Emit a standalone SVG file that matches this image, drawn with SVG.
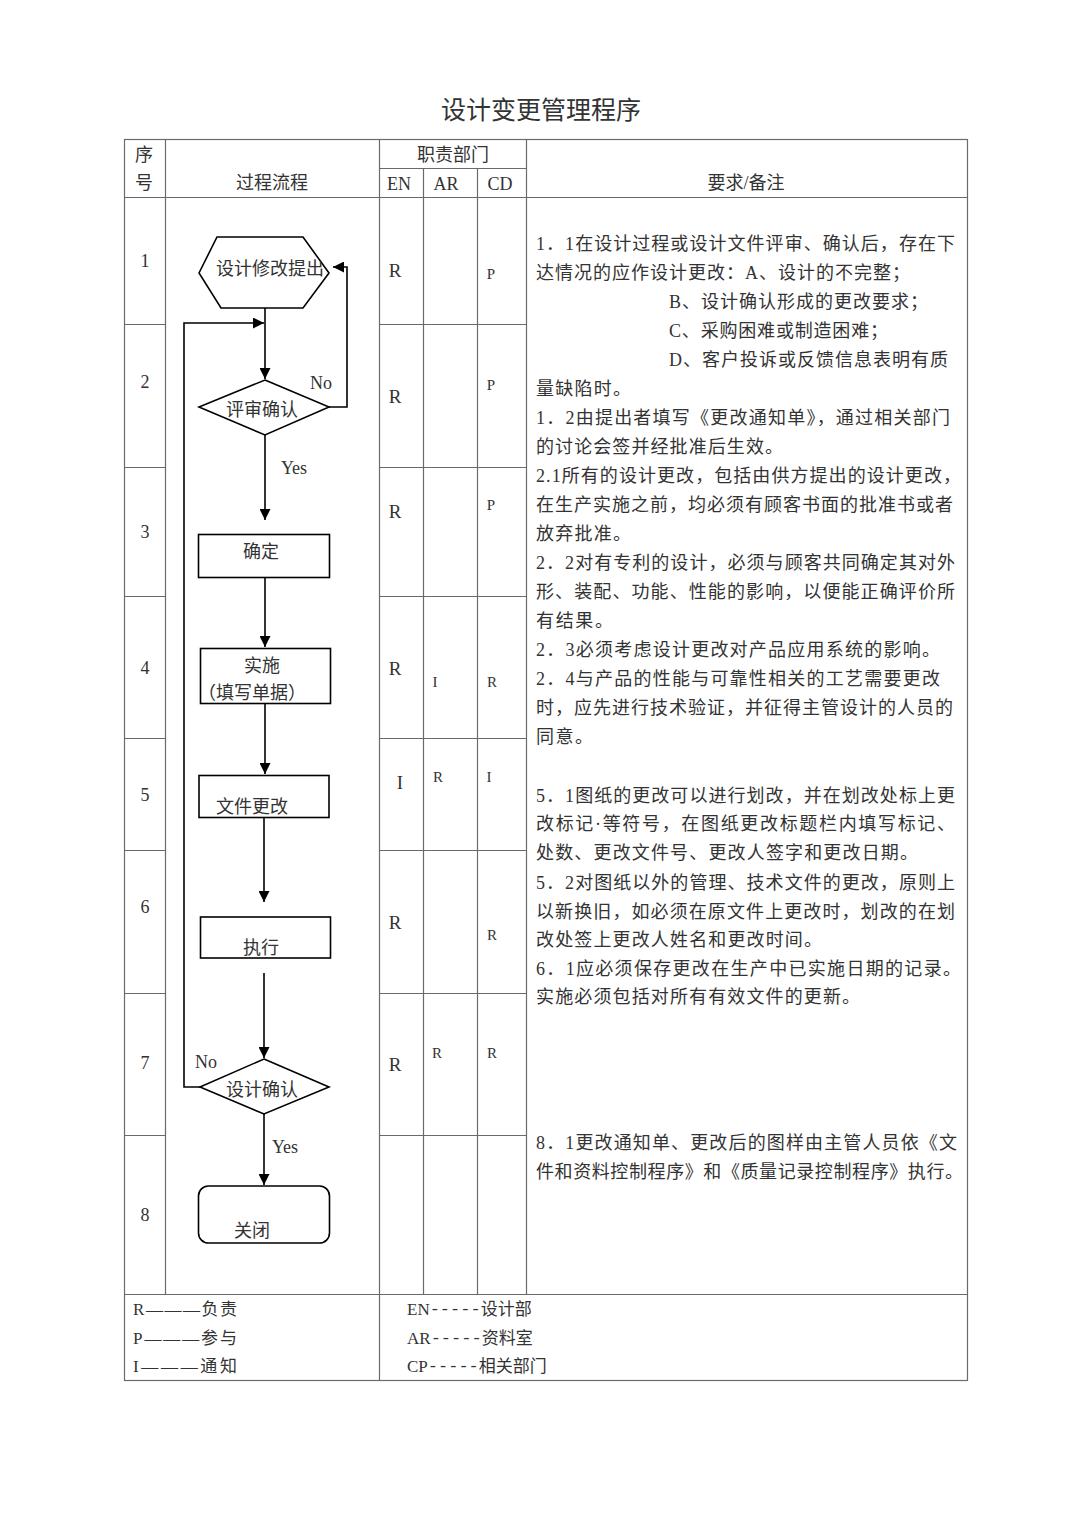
<svg xmlns="http://www.w3.org/2000/svg" width="1080" height="1527" viewBox="0 0 1080 1527">
<defs>
<style>
.tl{stroke:#6a6a6a;stroke-width:1.2;fill:none}
.fl{stroke:#000;stroke-width:1.6;fill:none}
.sh{fill:#fff;stroke:#000;stroke-width:1.6}
.t{font-family:"Liberation Serif","Noto Sans CJK SC",serif;fill:#333;dominant-baseline:central}
.c{text-anchor:middle}
.f18{font-size:18px}
.f17{font-size:17px}
.f15{font-size:15px}
.f19{font-size:19px}
.rm{font-family:"Liberation Serif","Noto Sans CJK SC",serif;fill:#333;font-size:18px;dominant-baseline:central}
.mono{font-family:"Liberation Mono","Noto Sans CJK SC",monospace}
</style>
<marker id="ah" markerWidth="11" markerHeight="11" refX="11" refY="5.5" orient="auto" markerUnits="userSpaceOnUse">
<path d="M0,0 L11,5.5 L0,11 z" fill="#000"/>
</marker>
</defs>
<rect width="1080" height="1527" fill="#fff"/>

<text class="t c" x="541" y="110" style="font-size:25px" textLength="200" lengthAdjust="spacing">设计变更管理程序</text>

<g id="table">
<rect class="tl" x="124.5" y="139.5" width="843" height="1241"/>
<path class="tl" d="M165.5,139 V1294 M379.5,139 V1381 M423.5,168 V1294 M477.5,168 V1294 M526.5,139 V1294"/>
<path class="tl" d="M379,168.5 H526 M124,197.5 H967 M124,1294.5 H967"/>
<path class="tl" d="M124,324.5 H165 M379,324.5 H526 M124,467.5 H165 M379,467.5 H526 M124,596.5 H165 M379,596.5 H526 M124,738.5 H165 M379,738.5 H526 M124,850.5 H165 M379,850.5 H526 M124,993.5 H165 M379,993.5 H526 M124,1135.5 H165 M379,1135.5 H526"/>
</g>

<g id="header">
<text class="t c f18" x="144" y="155">序</text>
<text class="t c f18" x="144" y="183">号</text>
<text class="t c f18" x="272" y="183">过程流程</text>
<text class="t c f18" x="453" y="155">职责部门</text>
<text class="t c f18" x="399" y="184">EN</text>
<text class="t c f18" x="446" y="184">AR</text>
<text class="t c f18" x="500" y="184">CD</text>
<text class="t c f18" x="746" y="183">要求/备注</text>
</g>

<g id="row-numbers">
<text class="t c f18" x="145" y="261">1</text>
<text class="t c f18" x="145" y="382">2</text>
<text class="t c f18" x="145" y="532">3</text>
<text class="t c f18" x="145" y="668">4</text>
<text class="t c f18" x="145" y="795">5</text>
<text class="t c f18" x="145" y="907">6</text>
<text class="t c f18" x="145" y="1063">7</text>
<text class="t c f18" x="145" y="1215">8</text>
</g>

<g id="roles">
<text class="t c f19" x="395" y="270">R</text>
<text class="t c f15" x="491" y="274">P</text>
<text class="t c f19" x="395" y="396">R</text>
<text class="t c f15" x="491" y="385">P</text>
<text class="t c f19" x="395" y="511">R</text>
<text class="t c f15" x="491" y="505">P</text>
<text class="t c f19" x="395" y="668">R</text>
<text class="t c f15" x="435" y="682">I</text>
<text class="t c f15" x="492" y="682">R</text>
<text class="t c f19" x="400" y="782">I</text>
<text class="t c f15" x="438" y="777">R</text>
<text class="t c f15" x="489" y="777">I</text>
<text class="t c f19" x="395" y="922">R</text>
<text class="t c f15" x="492" y="935">R</text>
<text class="t c f19" x="395" y="1064">R</text>
<text class="t c f15" x="437" y="1053">R</text>
<text class="t c f15" x="492" y="1053">R</text>
</g>

<g id="connectors">
<path class="fl" d="M265,308 V379" marker-end="url(#ah)"/>
<path class="fl" d="M265,435 V520" marker-end="url(#ah)"/>
<path class="fl" d="M265,577 V647" marker-end="url(#ah)"/>
<path class="fl" d="M265,703 V774" marker-end="url(#ah)"/>
<path class="fl" d="M264,817 V902" marker-end="url(#ah)"/>
<path class="fl" d="M264,973 V1058" marker-end="url(#ah)"/>
<path class="fl" d="M264,1114 V1185" marker-end="url(#ah)"/>
<path class="fl" d="M329,407 H347 V267 H333" marker-end="url(#ah)"/>
<path class="fl" d="M200,1087 H184 V323 H264" marker-end="url(#ah)"/>
<text class="t c f18" x="321" y="383">No</text>
<text class="t c f18" x="294" y="468">Yes</text>
<text class="t c f18" x="206" y="1062">No</text>
<text class="t c f18" x="285" y="1147">Yes</text>
</g>

<g id="n1">
<polygon class="sh" points="199,273 217,237 303,237 329,273 303,308 221,308"/>
<text class="t c f18" x="270" y="269">设计修改提出</text>
</g>
<g id="n2">
<polygon class="sh" points="265,380 329,407 265,435 199,407"/>
<text class="t c f18" x="262" y="410">评审确认</text>
</g>
<g id="n3">
<rect class="sh" x="198.5" y="534.5" width="131" height="43"/>
<text class="t c f18" x="261" y="552">确定</text>
</g>
<g id="n4">
<rect class="sh" x="200.5" y="648.5" width="130" height="55"/>
<text class="t c f18" x="262" y="666">实施</text>
<text class="t c f18" x="252" y="693">（填写单据）</text>
</g>
<g id="n5">
<rect class="sh" x="199" y="775.5" width="130" height="42"/>
<text class="t c f18" x="252" y="807">文件更改</text>
</g>
<g id="n6">
<rect class="sh" x="200.5" y="917" width="130" height="41"/>
<text class="t c f18" x="261" y="948">执行</text>
</g>
<g id="n7">
<polygon class="sh" points="264,1059 329,1087 264,1114 200,1087"/>
<text class="t c f18" x="262" y="1090">设计确认</text>
</g>
<g id="n8">
<rect class="sh" x="198.5" y="1186" width="131" height="57" rx="10"/>
<text class="t c f18" x="252" y="1231">关闭</text>
</g>

<g id="remarks">
<text class="rm" x="536" y="244" textLength="419" lengthAdjust="spacing">1．1在设计过程或设计文件评审、确认后，存在下</text>
<text class="rm" x="536" y="273" textLength="374" lengthAdjust="spacing">达情况的应作设计更改：A、设计的不完整；</text>
<text class="rm" x="669" y="302" textLength="259" lengthAdjust="spacing">B、设计确认形成的更改要求；</text>
<text class="rm" x="669" y="331" textLength="219" lengthAdjust="spacing">C、采购困难或制造困难；</text>
<text class="rm" x="669" y="360" textLength="279" lengthAdjust="spacing">D、客户投诉或反馈信息表明有质</text>
<text class="rm" x="536" y="389" textLength="95" lengthAdjust="spacing">量缺陷时。</text>
<text class="rm" x="536" y="418" textLength="414" lengthAdjust="spacing">1．2由提出者填写《更改通知单》，通过相关部门</text>
<text class="rm" x="536" y="447" textLength="247" lengthAdjust="spacing">的讨论会签并经批准后生效。</text>
<text class="rm" x="536" y="476" textLength="425" lengthAdjust="spacing">2.1所有的设计更改，包括由供方提出的设计更改，</text>
<text class="rm" x="536" y="505" textLength="417" lengthAdjust="spacing">在生产实施之前，均必须有顾客书面的批准书或者</text>
<text class="rm" x="536" y="534" textLength="95" lengthAdjust="spacing">放弃批准。</text>
<text class="rm" x="536" y="563" textLength="419" lengthAdjust="spacing">2．2对有专利的设计，必须与顾客共同确定其对外</text>
<text class="rm" x="536" y="592" textLength="419" lengthAdjust="spacing">形、装配、功能、性能的影响，以便能正确评价所</text>
<text class="rm" x="536" y="621" textLength="77" lengthAdjust="spacing">有结果。</text>
<text class="rm" x="536" y="650" textLength="404" lengthAdjust="spacing">2．3必须考虑设计更改对产品应用系统的影响。</text>
<text class="rm" x="536" y="679" textLength="404" lengthAdjust="spacing">2．4与产品的性能与可靠性相关的工艺需要更改</text>
<text class="rm" x="536" y="708" textLength="417" lengthAdjust="spacing">时，应先进行技术验证，并征得主管设计的人员的</text>
<text class="rm" x="536" y="737" textLength="57" lengthAdjust="spacing">同意。</text>
<text class="rm" x="536" y="796" textLength="419" lengthAdjust="spacing">5．1图纸的更改可以进行划改，并在划改处标上更</text>
<text class="rm" x="536" y="824" textLength="419" lengthAdjust="spacing">改标记·等符号，在图纸更改标题栏内填写标记、</text>
<text class="rm" x="536" y="853" textLength="382" lengthAdjust="spacing">处数、更改文件号、更改人签字和更改日期。</text>
<text class="rm" x="536" y="883" textLength="419" lengthAdjust="spacing">5．2对图纸以外的管理、技术文件的更改，原则上</text>
<text class="rm" x="536" y="912" textLength="419" lengthAdjust="spacing">以新换旧，如必须在原文件上更改时，划改的在划</text>
<text class="rm" x="536" y="940" textLength="286" lengthAdjust="spacing">改处签上更改人姓名和更改时间。</text>
<text class="rm" x="536" y="969" textLength="425" lengthAdjust="spacing">6．1应必须保存更改在生产中已实施日期的记录。</text>
<text class="rm" x="536" y="997" textLength="324" lengthAdjust="spacing">实施必须包括对所有有效文件的更新。</text>
<text class="rm" x="536" y="1143" textLength="421" lengthAdjust="spacing">8．1更改通知单、更改后的图样由主管人员依《文</text>
<text class="rm" x="536" y="1172" textLength="427" lengthAdjust="spacing">件和资料控制程序》和《质量记录控制程序》执行。</text>
</g>

<g id="legend">
<text class="t f17" x="133" y="1309" textLength="104" lengthAdjust="spacing">R———负责</text>
<text class="t f17" x="133" y="1338" textLength="104" lengthAdjust="spacing">P———参与</text>
<text class="t f17" x="133" y="1366" textLength="104" lengthAdjust="spacing">I———通知</text>
<text class="t f17" x="407" y="1309">EN<tspan class="mono">-----</tspan>设计部</text>
<text class="t f17" x="407" y="1338">AR<tspan class="mono">-----</tspan>资料室</text>
<text class="t f17" x="407" y="1366">CP<tspan class="mono">-----</tspan>相关部门</text>
</g>
</svg>
